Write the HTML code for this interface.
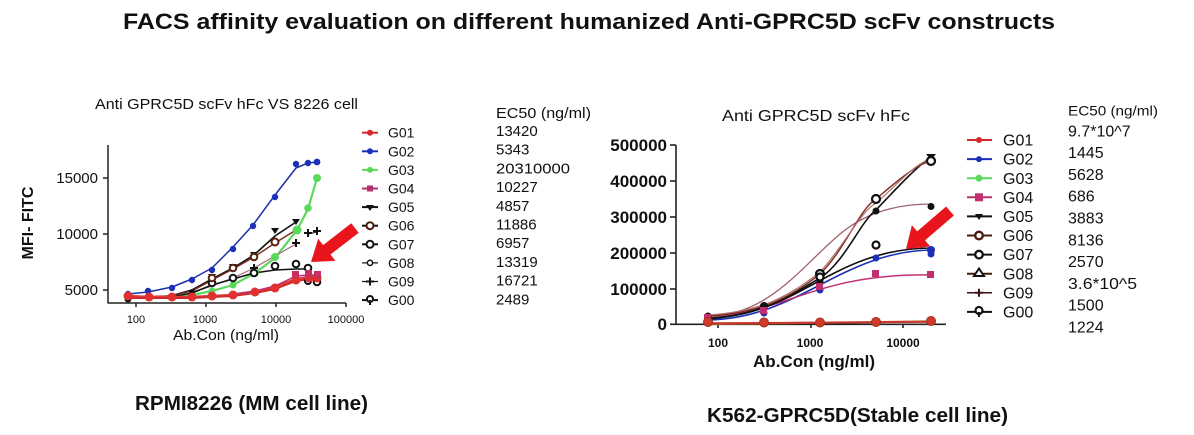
<!DOCTYPE html>
<html><head><meta charset="utf-8"><style>
html,body{margin:0;padding:0;background:#fff;}
svg{display:block;}
text{font-family:"Liberation Sans",Arial,sans-serif;fill:#111;}
</style></head><body>
<svg width="1194" height="435" viewBox="0 0 1194 435" xmlns="http://www.w3.org/2000/svg">
<rect width="1194" height="435" fill="#fff"/>
<!-- Main title -->
<text x="123" y="29" font-size="22" font-weight="bold" textLength="932" lengthAdjust="spacingAndGlyphs">FACS affinity evaluation on different humanized Anti-GPRC5D scFv constructs</text>

<!-- ================= LEFT CHART ================= -->
<text x="95" y="109" font-size="15" textLength="263" lengthAdjust="spacingAndGlyphs">Anti GPRC5D scFv hFc VS 8226  cell</text>
<text transform="translate(33,223) rotate(-90)" text-anchor="middle" font-size="16" font-weight="bold" textLength="73" lengthAdjust="spacingAndGlyphs">MFI- FITC</text>
<!-- axes -->
<g stroke="#222" stroke-width="1.5" fill="none">
<line x1="108" y1="145" x2="108" y2="303.5"/>
<line x1="108" y1="303" x2="346" y2="303"/>
<line x1="103" y1="178" x2="108" y2="178"/>
<line x1="103" y1="234" x2="108" y2="234"/>
<line x1="103" y1="290" x2="108" y2="290"/>
<line x1="136" y1="303" x2="136" y2="307"/>
<line x1="206" y1="303" x2="206" y2="307"/>
<line x1="276" y1="303" x2="276" y2="307"/>
<line x1="346" y1="303" x2="346" y2="307"/>
</g>
<g font-size="15" text-anchor="end">
<text x="98" y="183">15000</text>
<text x="98" y="239">10000</text>
<text x="98" y="295">5000</text>
</g>
<g font-size="11" text-anchor="middle">
<text x="136" y="323">100</text>
<text x="205" y="323">1000</text>
<text x="276" y="323">10000</text>
<text x="346" y="323">100000</text>
</g>
<text x="173" y="340" font-size="15" textLength="106" lengthAdjust="spacingAndGlyphs">Ab.Con (ng/ml)</text>

<!-- left curves -->
<g fill="none" stroke-linejoin="round" stroke-linecap="round">
<polyline stroke="#1c2fa8" stroke-width="1.5" points="128,294 148,292 172,287 192,279 212,268 233,247 253,225 275,195 296,168 308,163 317,162"/>
<polyline stroke="#5ad85a" stroke-width="2.2" points="128,297 150,297 172,297 192,295 212,291 233,285 255,273 275,258 297,230 308,209 317,178"/>
<polyline stroke="#111" stroke-width="1.6" points="128,298 170,296 192,290 212,279 233,268 254,255 275,236 296,222"/>
<polyline stroke="#7a2a1e" stroke-width="1.4" points="128,297 170,296 192,291 212,280 233,269 254,257 275,243 296,230"/>
<polyline stroke="#a56a7a" stroke-width="1.2" points="192,292 212,286 233,278 254,268 275,256 296,244"/>
<polyline stroke="#333" stroke-width="1.2" points="308,234 317,232"/>
<polyline stroke="#111" stroke-width="1.6" points="128,298 170,297 192,293 212,285 233,279 254,273 275,270 296,269 309,269"/>
<polyline stroke="#e03a3a" stroke-width="2.4" points="128,296 150,297 172,297 192,297 212,296 233,295 255,292 275,287 296,279 309,277 317,277"/>
<polyline stroke="#d02a2a" stroke-width="2" points="128,298 150,298 172,298 192,298 212,297 233,296 255,293 275,289 296,281 309,279 317,280"/>
<polyline stroke="#c03070" stroke-width="1.5" points="233,294 255,291 275,286 296,276 308,275 317,275"/>
</g>
<!-- left markers -->
<g fill="#1c2fb8">
<circle cx="128" cy="294" r="3.2"/><circle cx="148" cy="291" r="3.2"/><circle cx="172" cy="288" r="3.2"/><circle cx="192" cy="280" r="3.2"/><circle cx="212" cy="270" r="3.2"/><circle cx="233" cy="249" r="3.2"/><circle cx="253" cy="226" r="3.2"/><circle cx="275" cy="197" r="3.2"/><circle cx="296" cy="164" r="3.2"/><circle cx="308" cy="163" r="3.2"/><circle cx="317" cy="162" r="3.4"/>
</g>
<g fill="#5ad85a">
<circle cx="212" cy="291" r="3.5"/><circle cx="233" cy="285" r="3.5"/><circle cx="255" cy="273" r="4"/><circle cx="275" cy="257" r="4"/><circle cx="297" cy="230" r="4.5"/><circle cx="308" cy="208" r="3.8"/><circle cx="317" cy="178" r="4"/>
</g>
<g fill="#111">
<circle cx="128" cy="299" r="3.5"/><circle cx="150" cy="298" r="3"/><circle cx="172" cy="298" r="3"/><circle cx="192" cy="292" r="3"/>
<polygon points="208,274 216,274 212,280"/><polygon points="229,264 237,264 233,270"/><polygon points="250,252 258,252 254,258"/><polygon points="271,228 279,228 275,234"/><polygon points="292,219 300,219 296,225"/>
<path d="M250,268 h8 M254,264 v8 M292,243 h8 M296,239 v8 M304,233 h8 M308,229 v8 M313,231 h8 M317,227 v8" stroke="#111" stroke-width="2"/>
</g>
<g fill="#fff" stroke="#111" stroke-width="2">
<circle cx="212" cy="283" r="3.3"/><circle cx="233" cy="278" r="3.3"/><circle cx="254" cy="273" r="3.3"/><circle cx="275" cy="266" r="3.3"/><circle cx="296" cy="264" r="3.3"/><circle cx="308" cy="268" r="3.3"/>
<circle cx="212" cy="278" r="3.3" stroke="#5a2010"/><circle cx="233" cy="268" r="3.3" stroke="#5a2010"/><circle cx="254" cy="257" r="3.3" stroke="#5a2010"/><circle cx="275" cy="242" r="3.5" stroke="#5a2010"/>
<circle cx="317" cy="282" r="3.3"/><circle cx="308" cy="281" r="3"/>
</g>
<g fill="#e03030">
<circle cx="128" cy="296" r="4.5"/><circle cx="149" cy="297" r="4.5"/><circle cx="172" cy="297" r="4.5"/><circle cx="192" cy="297" r="4.5"/><circle cx="212" cy="296" r="4.5"/><circle cx="233" cy="295" r="4.5"/><circle cx="255" cy="292" r="4.5"/><circle cx="275" cy="288" r="4.5"/><circle cx="296" cy="280" r="4.5"/><circle cx="309" cy="278" r="4.5"/><circle cx="317" cy="278" r="4.5"/>
</g>
<g fill="#c83060">
<rect x="292" y="271" width="7" height="7"/><rect x="305" y="270" width="7" height="7"/><rect x="314" y="271" width="7" height="7"/>
</g>
<!-- left arrow -->
<polygon fill="#e8161c" points="311,262 335.4,260.9 330.5,254.5 358.7,232.7 351.3,223.3 323.1,245.1 318.2,238.7"/>

<!-- left legend -->
<g stroke-width="2">
<line x1="362" y1="132.7" x2="378" y2="132.7" stroke="#d62a2a"/><circle cx="370" cy="132.7" r="3" fill="#d62a2a"/>
<line x1="362" y1="151.3" x2="378" y2="151.3" stroke="#1c2fb8"/><circle cx="370" cy="151.3" r="3" fill="#1c2fb8"/>
<line x1="362" y1="169.9" x2="378" y2="169.9" stroke="#5ad85a"/><circle cx="370" cy="169.9" r="3" fill="#5ad85a"/>
<line x1="362" y1="188.5" x2="378" y2="188.5" stroke="#b03070"/><rect x="367" y="185.5" width="6" height="6" fill="#b03070"/>
<line x1="362" y1="207.1" x2="378" y2="207.1" stroke="#111"/><polygon points="366,205 374,205 370,211" fill="#111"/>
<line x1="362" y1="225.7" x2="378" y2="225.7" stroke="#111"/><circle cx="370" cy="225.7" r="3.5" fill="#fff" stroke="#4a1a10"/>
<line x1="362" y1="244.3" x2="378" y2="244.3" stroke="#111"/><circle cx="370" cy="244.3" r="3.5" fill="#fff" stroke="#111"/>
<line x1="362" y1="262.9" x2="378" y2="262.9" stroke="#111" stroke-width="1.2"/><circle cx="370" cy="262.9" r="2.6" fill="#fff" stroke="#111" stroke-width="1.5"/>
<line x1="362" y1="281.5" x2="378" y2="281.5" stroke="#111" stroke-width="1.2"/><path d="M366,281.5 h8 M370,277.5 v8" stroke="#111"/>
<line x1="362" y1="300.1" x2="378" y2="300.1" stroke="#111"/><circle cx="370" cy="299" r="3" fill="#fff" stroke="#111"/><line x1="370" y1="300" x2="370" y2="305" stroke="#111"/>
</g>
<g font-size="14">
<text x="388" y="137.7">G01</text>
<text x="388" y="156.3">G02</text>
<text x="388" y="174.9">G03</text>
<text x="388" y="193.5">G04</text>
<text x="388" y="212.1">G05</text>
<text x="388" y="230.7">G06</text>
<text x="388" y="249.3">G07</text>
<text x="388" y="267.9">G08</text>
<text x="388" y="286.5">G09</text>
<text x="388" y="305.1">G00</text>
</g>
<g font-size="15">
<text x="496" y="118" textLength="95" lengthAdjust="spacingAndGlyphs">EC50 (ng/ml)</text>
<text x="496" y="136">13420</text>
<text x="496" y="154.7">5343</text>
<text x="496" y="173.4" textLength="74" lengthAdjust="spacingAndGlyphs">20310000</text>
<text x="496" y="192.1">10227</text>
<text x="496" y="210.8">4857</text>
<text x="496" y="229.5">11886</text>
<text x="496" y="248.2">6957</text>
<text x="496" y="266.9">13319</text>
<text x="496" y="285.6">16721</text>
<text x="496" y="304.3">2489</text>
</g>
<text x="135" y="410" font-size="20" font-weight="bold" textLength="233" lengthAdjust="spacingAndGlyphs">RPMI8226 (MM cell line)</text>

<!-- ================= RIGHT CHART ================= -->
<text x="722" y="121" font-size="16" textLength="188" lengthAdjust="spacingAndGlyphs">Anti GPRC5D scFv hFc</text>
<g stroke="#222" stroke-width="1.6" fill="none">
<line x1="676" y1="145" x2="676" y2="325"/>
<line x1="676" y1="324.3" x2="946" y2="324.3"/>
<line x1="670" y1="145" x2="676" y2="145"/>
<line x1="670" y1="181" x2="676" y2="181"/>
<line x1="670" y1="217" x2="676" y2="217"/>
<line x1="670" y1="253" x2="676" y2="253"/>
<line x1="670" y1="289" x2="676" y2="289"/>
<line x1="670" y1="324.3" x2="676" y2="324.3"/>
<line x1="718" y1="324" x2="718" y2="328"/>
<line x1="811" y1="324" x2="811" y2="328"/>
<line x1="903" y1="324" x2="903" y2="328"/>
</g>
<g font-size="17" font-weight="bold" text-anchor="end">
<text x="667" y="151">500000</text>
<text x="667" y="187">400000</text>
<text x="667" y="223">300000</text>
<text x="667" y="259">200000</text>
<text x="667" y="295">100000</text>
<text x="667" y="330">0</text>
</g>
<g font-size="12" font-weight="bold" text-anchor="middle">
<text x="718" y="347">100</text>
<text x="810" y="347">1000</text>
<text x="903" y="347">10000</text>
</g>
<text x="753" y="367" font-size="17" font-weight="bold" textLength="122" lengthAdjust="spacingAndGlyphs">Ab.Con (ng/ml)</text>

<!-- right curves -->
<g fill="none" stroke-linecap="round">
<path d="M708,324 L931,321.5" stroke="#b05020" stroke-width="2.2"/>
<path d="M708,323 L931,322" stroke="#d03030" stroke-width="1.6"/>
<path d="M708,320 C800,318 840,252 931,250" stroke="#1c2fb8" stroke-width="1.6"/>
<path d="M708,317 C785,314 815,273 931,275" stroke="#c03070" stroke-width="1.5"/>
<path d="M708,318 C800,316 830,249 931,248" stroke="#111" stroke-width="1.6"/>
<path d="M708,317 C770,314 800,268 840,234 C865,213 895,204 931,204" stroke="#a06070" stroke-width="1.3"/>
<path d="M708,319 C760,315 790,296 820,278 C845,262 860,222 876,210 C895,190 915,168 931,157" stroke="#111" stroke-width="1.6"/>
<path d="M708,316 C760,313 790,298 820,274 C845,250 860,208 876,199 C895,183 915,165 931,161" stroke="#7a2a1e" stroke-width="1.4"/>
<path d="M708,315 C760,312 790,296 820,272 C845,245 860,212 876,203 C895,187 915,163 931,159" stroke="#b07070" stroke-width="1.2"/>
</g>
<!-- right markers -->
<g fill="#111">
<circle cx="708" cy="316" r="3.5"/><circle cx="764" cy="306" r="4"/><circle cx="820" cy="281" r="3.5"/><circle cx="876" cy="211" r="3.5"/><circle cx="931" cy="206.5" r="3.5"/>
<polygon points="926,154 936,154 931,160"/>
</g>
<g fill="#fff" stroke="#111" stroke-width="2.2">
<circle cx="820" cy="274" r="4"/><circle cx="876" cy="199" r="4"/><circle cx="931" cy="161" r="4"/><circle cx="876" cy="245" r="3.5"/><circle cx="820" cy="277" r="3.5"/>
</g>
<g fill="#1c2fb8">
<circle cx="708" cy="320" r="3.5"/><circle cx="764" cy="313" r="3.5"/><circle cx="820" cy="290" r="3.5"/><circle cx="876" cy="258" r="3.5"/><circle cx="931" cy="250" r="4"/><circle cx="931" cy="254" r="3.5"/>
</g>
<g fill="#c03070">
<rect x="704" y="314" width="7" height="7"/><rect x="760" y="307" width="7" height="7"/><rect x="816" y="283" width="7" height="7"/><rect x="872" y="270" width="7" height="7"/><rect x="927" y="271" width="7" height="7"/>
</g>
<g fill="#d03a2a" stroke="#a03020" stroke-width="1">
<circle cx="708" cy="322" r="4.5"/><circle cx="764" cy="322.5" r="4.5"/><circle cx="820" cy="322.5" r="4.5"/><circle cx="876" cy="322" r="4.5"/><circle cx="931" cy="321" r="4.5"/>
</g>
<!-- right arrow -->
<polygon fill="#e8161c" points="906,249 930.3,246.5 925,240.4 953.9,215.5 946.1,206.5 917.2,231.4 911.9,225.3"/>

<!-- right legend -->
<g stroke-width="2">
<line x1="967" y1="140" x2="992" y2="140" stroke="#d62a2a"/><circle cx="979" cy="140" r="3" fill="#d62a2a"/>
<line x1="967" y1="159.1" x2="992" y2="159.1" stroke="#1c2fb8"/><circle cx="979" cy="159.1" r="3" fill="#1c2fb8"/>
<line x1="967" y1="178.2" x2="992" y2="178.2" stroke="#5ad85a"/><circle cx="979" cy="178.2" r="3.5" fill="#5ad85a"/>
<line x1="967" y1="197.3" x2="992" y2="197.3" stroke="#c03070"/><rect x="975" y="193.3" width="8" height="8" fill="#c03070"/>
<line x1="967" y1="216.4" x2="992" y2="216.4" stroke="#111"/><polygon points="975,214 983,214 979,220" fill="#111"/>
<line x1="967" y1="235.5" x2="992" y2="235.5" stroke="#4a1a10"/><circle cx="979" cy="235.5" r="3.8" fill="#fff" stroke="#4a1a10" stroke-width="2.4"/>
<line x1="967" y1="254.6" x2="992" y2="254.6" stroke="#111"/><circle cx="979" cy="254.6" r="3.8" fill="#fff" stroke="#111" stroke-width="2.4"/>
<line x1="967" y1="273.7" x2="992" y2="273.7" stroke="#4a1a10"/><polygon points="979,268.5 984,276 974,276" fill="#fff" stroke="#111" stroke-width="2"/>
<line x1="967" y1="292.8" x2="992" y2="292.8" stroke="#3a1010" stroke-width="1.5"/><path d="M975,292.8 h8 M979,288.8 v8" stroke="#3a1010"/>
<line x1="967" y1="311.9" x2="992" y2="311.9" stroke="#111"/><circle cx="979" cy="310.5" r="3.5" fill="#fff" stroke="#111" stroke-width="2.2"/><line x1="979" y1="312" x2="979" y2="317" stroke="#111"/>
</g>
<g font-size="16">
<text x="1003" y="145.6">G01</text>
<text x="1003" y="164.7">G02</text>
<text x="1003" y="183.8">G03</text>
<text x="1003" y="202.9">G04</text>
<text x="1003" y="222">G05</text>
<text x="1003" y="241.1">G06</text>
<text x="1003" y="260.2">G07</text>
<text x="1003" y="279.3">G08</text>
<text x="1003" y="298.4">G09</text>
<text x="1003" y="317.5">G00</text>
</g>
<text x="1068" y="115.5" font-size="14" textLength="90" lengthAdjust="spacingAndGlyphs">EC50 (ng/ml)</text>
<g font-size="16">
<text x="1068" y="136.3">9.7*10^7</text>
<text x="1068" y="158.1">1445</text>
<text x="1068" y="179.9">5628</text>
<text x="1068" y="201.7">686</text>
<text x="1068" y="223.5">3883</text>
<text x="1068" y="245.3">8136</text>
<text x="1068" y="267.1">2570</text>
<text x="1068" y="288.9" textLength="69" lengthAdjust="spacingAndGlyphs">3.6*10^5</text>
<text x="1068" y="310.7">1500</text>
<text x="1068" y="332.5">1224</text>
</g>
<text x="707" y="422" font-size="20" font-weight="bold" textLength="301" lengthAdjust="spacingAndGlyphs">K562-GPRC5D(Stable cell line)</text>
</svg>
</body></html>
